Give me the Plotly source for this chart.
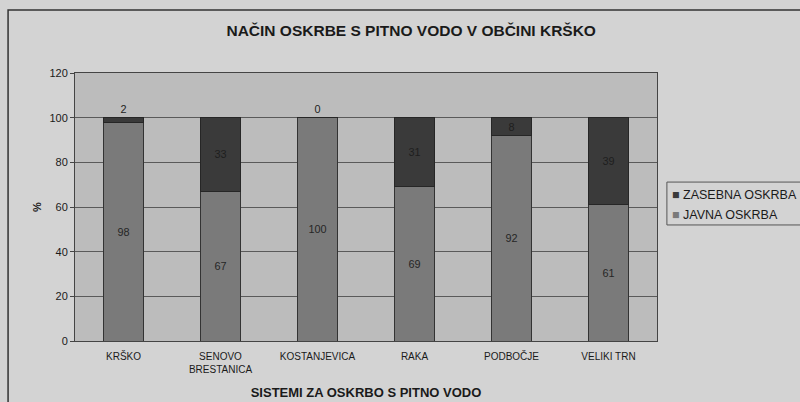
import plotly.graph_objects as go

categories = ["KRŠKO", "SENOVO<br>BRESTANICA", "KOSTANJEVICA", "RAKA", "PODBOČJE", "VELIKI TRN"]
javna = [98, 67, 100, 69, 92, 61]
zasebna = [2, 33, 0, 31, 8, 39]
y_ticks = [0, 20, 40, 60, 80, 100, 120]
series_names = ["ZASEBNA OSKRBA", "JAVNA OSKRBA"]

C_JAVNA = "#7a7a7a"
C_ZASEBNA = "#3a3a3a"
FONT = "Liberation Sans Narrow, Arial Narrow, Liberation Sans, Arial, sans-serif"
BOLD = "Liberation Sans, Arial, sans-serif"
TXT = "#1a1a1a"

fig = go.Figure()
fig.add_trace(go.Bar(
    x=categories, y=javna, name=series_names[1], showlegend=False,
    marker=dict(color=C_JAVNA, line=dict(color="#333333", width=1)),
    text=[str(v) for v in javna], textposition="inside", insidetextanchor="middle",
    textangle=0, textfont=dict(size=11, color="#262626", family=FONT),
))
fig.add_trace(go.Bar(
    x=categories, y=zasebna, name=series_names[0], showlegend=False,
    marker=dict(color=C_ZASEBNA, line=dict(color="#262626", width=1)),
    text=[str(v) for v in zasebna],
    textposition=["outside", "inside", "outside", "inside", "inside", "inside"],
    insidetextanchor="middle", textangle=0,
    textfont=dict(size=11, color="#1e1e1e", family=FONT),
    cliponaxis=False,
))

# legend drawn as a boxed text block (reference legend runs to the page edge)
legend_colors = [C_ZASEBNA, C_JAVNA]
annotations = []
for i, (nm, col) in enumerate(zip(series_names, legend_colors)):
    annotations.append(dict(
        xref="paper", yref="paper", x=1.023, y=0.545 - i * 0.075,
        xanchor="left", yanchor="middle", showarrow=False,
        text=f"<span style='color:{col}'>■</span> {nm}",
        font=dict(family=BOLD, size=12.5, color=TXT),
    ))

fig.update_layout(
    width=800, height=402,
    barmode="stack", bargap=0.58,
    paper_bgcolor="#d3d3d3", plot_bgcolor="#bcbcbc",
    margin=dict(l=75, r=143, t=73, b=61),
    uniformtext=dict(minsize=10, mode="show"),
    showlegend=False,
    title=dict(text="<b>NAČIN OSKRBE S PITNO VODO V OBČINI KRŠKO</b>",
               x=0.514, xanchor="center", y=0.925, yanchor="middle",
               font=dict(family=BOLD, size=15.5, color=TXT)),
    font=dict(family=FONT, color=TXT),
    annotations=annotations,
    shapes=[
        dict(type="rect", xref="paper", yref="paper",
             x0=-0.115, x1=1.4, y0=-0.4, y1=1.235,
             line=dict(color="#333333", width=1.5), layer="below"),
        dict(type="rect", xref="paper", yref="paper",
             x0=1.017, x1=1.3, y0=0.433, y1=0.593,
             line=dict(color="#555555", width=1), layer="below"),
    ],
)
fig.update_xaxes(
    showline=True, linecolor="#444444", mirror=True, automargin=False,
    tickfont=dict(family=FONT, size=10, color=TXT), ticklabelstandoff=6,
    title=dict(text="<b>SISTEMI ZA OSKRBO S PITNO VODO</b>",
               font=dict(family=BOLD, size=13, color=TXT), standoff=13),
)
fig.update_yaxes(
    range=[0, 120], tickvals=y_ticks, automargin=False,
    showline=True, linecolor="#444444", mirror=True,
    showgrid=True, gridcolor="#5a5a5a", gridwidth=1,
    ticks="outside", ticklen=4, tickcolor="#444444",
    tickfont=dict(family=BOLD, size=11, color=TXT),
    title=dict(text="<b>%</b>", font=dict(family=BOLD, size=11, color=TXT), standoff=5),
    zeroline=False,
)

fig.write_html("out.html", config={"displayModeBar": False},
               post_script="document.body.style.margin='0';")
